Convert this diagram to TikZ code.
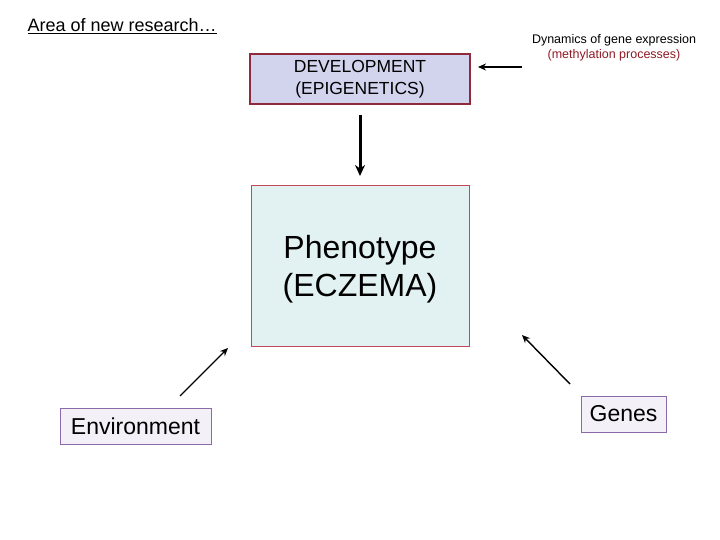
\documentclass[tikz,border=0pt]{standalone}
\usepackage{fontspec}
\setmainfont{Liberation Sans}
\usetikzlibrary{arrows.meta}
\definecolor{devfill}{HTML}{D2D4EE}
\definecolor{devdraw}{HTML}{8E2A3C}
\definecolor{phenfill}{HTML}{E2F2F2}
\definecolor{phendraw}{HTML}{C04A5A}
\definecolor{smallfill}{HTML}{F4F0F8}
\definecolor{smalldraw}{HTML}{8A6AA8}
\definecolor{methred}{HTML}{8E1A24}
\tikzset{
  devbox/.style={draw=devdraw, line width=1.6pt, fill=devfill, minimum width=220pt, minimum height=50pt, align=center, font=\fontsize{17.5}{22}\selectfont, inner sep=0pt},
  phenbox/.style={draw=phendraw, line width=0.8pt, fill=phenfill, minimum width=218pt, minimum height=161pt, align=center, font=\fontsize{32}{38}\selectfont, inner sep=0pt},
  smallbox/.style={draw=smalldraw, line width=0.8pt, fill=smallfill, align=center, font=\fontsize{23}{26}\selectfont, inner sep=0pt},
  arr/.style={-{Stealth[length=8pt,width=7pt]}, line width=1.4pt},
  bigarr/.style={-{Stealth[length=11pt,width=10pt]}, line width=3pt}
}
\begin{document}
\begin{tikzpicture}[x=1pt,y=-1pt]
\useasboundingbox (0,0) rectangle (720,540);
\node[anchor=west, font=\fontsize{18}{20}\selectfont] (title) at (24,26) {\underline{Area of new research\ldots}};
\node[devbox] (dev) at (360,79) {DEVELOPMENT\\(EPIGENETICS)};
\node[phenbox] (phen) at (360,265.5) {};
\node[align=center, font=\fontsize{32}{38}\selectfont, inner sep=0pt] (phentext) at (360,269) {Phenotype\\(ECZEMA)};
\node[smallbox, minimum width=151pt, minimum height=36pt] (env) at (135.5,426) {Environment};
\node[smallbox, minimum width=85pt, minimum height=36pt] (genes) at (623.5,414) {Genes};
\node[align=center, font=\fontsize{12.5}{15}\selectfont] (dyn) at (614,48) {Dynamics of gene expression\\\textcolor{methred}{(methylation processes)}};
\coordinate (dynL) at (522,67);
\coordinate (devR) at (478,67);
\draw[arr] (dynL) -- (devR);
\coordinate (vtop) at (360,115);
\coordinate (vbot) at (360,176);
\draw[bigarr] (vtop) -- (vbot);
\coordinate (envA) at (180,396);
\coordinate (envB) at (228,348);
\draw[arr] (envA) -- (envB);
\coordinate (genA) at (570,384);
\coordinate (genB) at (522,335);
\draw[arr] (genA) -- (genB);
\end{tikzpicture}
\end{document}
